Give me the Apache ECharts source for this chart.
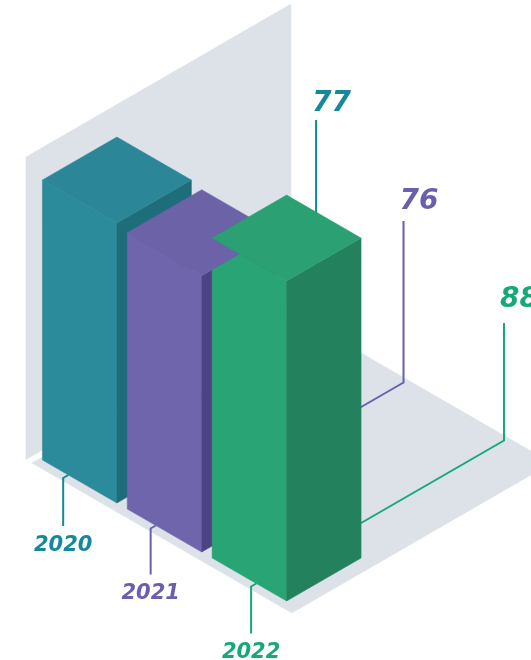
<!DOCTYPE html>
<html>
<head>
<meta charset="utf-8">
<script src="https://cdn.jsdelivr.net/npm/echarts@6/dist/echarts.min.js"></script>
<style>
html,body{margin:0;padding:0;background:#fff;}
#chart{width:531px;height:660px;}
</style>
</head>
<body>
<div id="chart"></div>
<script>
// ---- data ----
var categories = ['2020', '2021', '2022'];
var values = [77, 76, 88];
var valueLabels = ['77', '76', '88'];

// ---- styling / layout ----
var palette = [
  {front: '#2c8b9b', top: '#2b8797', side: '#1d6d7b', text: '#15889b'},
  {front: '#6e65ad', top: '#6b62a8', side: '#4b4385', text: '#6a5fae'},
  {front: '#29a475', top: '#2aa073', side: '#23825d', text: '#17a87a'}
];
var OX = 32, OY = 463;               // iso origin (floor left corner)
var GRID_LEFT = 0;
var BAR_HALF = 43, V0 = 9, V1 = 95;
var leaderShift = [-13, -10, 8];     // leader position relative to bar centre (iso units)
var leaderTopY = [120, 221, 323];    // screen y where value leaders end
var labelBaseY = [112, 210, 308];    // screen baseline of value labels
var yearDrop = [48, 46, 47];         // length of the year leader drop
var FONT = '"DejaVu Sans"';

function P(u, v, z) {
  return [OX + 0.8660254 * (u + v), OY + 0.5 * (u - v) - z];
}
function poly(pts, fill, z2) {
  return {type: 'polygon', shape: {points: pts}, style: {fill: fill, stroke: fill, lineWidth: 0.5}, z2: z2 || 0};
}

var chart = echarts.init(document.getElementById('chart'), null, {renderer: 'canvas'});

var data = values.map(function (v, i) { return [i, v]; });

function centreU(api, i) {
  return api.coord([i, 0])[0] - GRID_LEFT - 3;
}

var option = {
  animation: false,
  grid: {left: GRID_LEFT, top: 100, width: 294, height: 363.6},
  xAxis: {type: 'category', data: categories, show: false},
  yAxis: {type: 'value', min: 0, max: 100, show: false},
  series: [
    { // wall + floor
      type: 'custom', z: 1, silent: true,
      data: [[0, 0]],
      renderItem: function () {
        return {type: 'group', children: [
          poly([P(-7, 0, 0), P(-7, 306, 0), P(-7, 306, 302.5), P(-7, 0, 302.5)], '#dce2e8'),
          poly([P(0, 0, 0), P(300, 0, 0), P(300, 300, 0), P(0, 300, 0)], '#dce2e8')
        ]};
      }
    },
    { // leader lines
      type: 'custom', z: 2, silent: true,
      data: data,
      renderItem: function (params, api) {
        var i = api.value(0);
        var c = palette[i];
        var ul = centreU(api, i) + leaderShift[i];
        var a = P(ul, V1, 0), b = P(ul, 295, 0);
        var bend = P(ul, 3, 0), start = P(ul, V0, 0);
        return {type: 'group', children: [
          {type: 'polyline', shape: {points: [a, b, [b[0], leaderTopY[i]]]},
           style: {stroke: c.text, lineWidth: 2, fill: null}},
          {type: 'polyline', shape: {points: [start, bend, [bend[0], bend[1] + yearDrop[i]]]},
           style: {stroke: c.text, lineWidth: 2, fill: null}}
        ]};
      }
    },
    { // bars
      type: 'custom', z: 3,
      data: data,
      renderItem: function (params, api) {
        var i = api.value(0);
        var c = palette[i];
        var uc = centreU(api, i);
        var h = api.size([0, api.value(1)])[1];
        var u0 = uc - BAR_HALF, u1 = uc + BAR_HALF;
        return {type: 'group', children: [
          poly([P(u0, V0, 0), P(u1, V0, 0), P(u1, V0, h), P(u0, V0, h)], c.front, 1),
          poly([P(u1, V0, 0), P(u1, V1, 0), P(u1, V1, h), P(u1, V0, h)], c.side, 1),
          poly([P(u0, V0, h), P(u1, V0, h), P(u1, V1, h), P(u0, V1, h)], c.top, 2)
        ]};
      }
    },
    { // labels
      type: 'custom', z: 4, silent: true,
      data: data,
      renderItem: function (params, api) {
        var i = api.value(0);
        var c = palette[i];
        var ul = centreU(api, i) + leaderShift[i];
        var b = P(ul, 295, 0);
        var bend = P(ul, 3, 0);
        return {type: 'group', children: [
          {type: 'text', x: b[0] - 4, y: labelBaseY[i] + 6,
           style: {text: valueLabels[i], fill: c.text, font: 'italic bold 28px ' + FONT,
                   textAlign: 'left', textVerticalAlign: 'bottom'}},
          {type: 'text', x: bend[0], y: bend[1] + yearDrop[i] + 9,
           style: {text: categories[i], fill: c.text, font: 'italic bold 21px ' + FONT,
                   textAlign: 'center', textVerticalAlign: 'top'}}
        ]};
      }
    }
  ]
};
chart.setOption(option);
</script>
</body>
</html>
